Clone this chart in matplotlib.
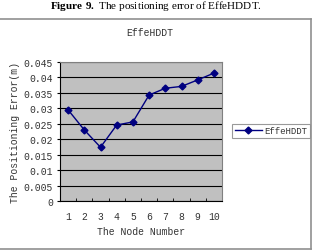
import matplotlib
matplotlib.use("Agg")
import matplotlib.pyplot as plt
from matplotlib.lines import Line2D

# data
nodes = [1, 2, 3, 4, 5, 6, 7, 8, 9, 10]
error = [0.0295, 0.023, 0.0174, 0.0246, 0.0256, 0.0343, 0.0365, 0.0371, 0.0392, 0.0414]
yticks = [0, 0.005, 0.01, 0.015, 0.02, 0.025, 0.03, 0.035, 0.04, 0.045]
ylabels = ["0", "0.005", "0.01", "0.015", "0.02", "0.025", "0.03", "0.035", "0.04", "0.045"]

plt.rcParams["mathtext.fontset"] = "custom"
plt.rcParams["mathtext.rm"] = "Liberation Serif"
plt.rcParams["mathtext.bf"] = "Liberation Serif:bold"

W, H = 312, 253
fig = plt.figure(figsize=(W / 100, H / 100), dpi=100)
fig.patch.set_facecolor("white")

mono = "Liberation Mono"
navy = "#000080"
txt = "#333333"

# caption
fig.text(0.5, 1 - 6 / H, r"$\mathbf{Figure\ 9.}$ The positioning error of EffeHDDT.",
         ha="center", va="center", fontsize=8, family="Liberation Serif")
# frame around the chart
fr = dict(color="#909090", lw=1.2, transform=fig.transFigure)
fig.add_artist(Line2D([0, 311 / W], [1 - 20 / H, 1 - 20 / H], **fr))
fig.add_artist(Line2D([0, 311 / W], [1 - 250 / H, 1 - 250 / H], **fr))
fig.add_artist(Line2D([311 / W, 311 / W], [1 - 20 / H, 1 - 250 / H], **fr))

ax = fig.add_axes([60 / W, 1 - 202 / H, 162 / W, 139 / H])
ax.set_facecolor("#C0C0C0")
ax.plot(nodes, error, color=navy, lw=1, marker="D", ms=3.5, label="EffeHDDT")
ax.set_xlim(0.5, 10.5)
ax.set_ylim(0, 0.045)
ax.set_yticks(yticks)
ax.set_yticklabels(ylabels, family=mono, fontsize=7, color=txt)
ax.set_xticks(nodes)
ax.set_xticklabels([str(n) for n in nodes], family=mono, fontsize=7, color=txt)
ax.set_xticks([n + 0.5 for n in nodes[:-1]], minor=True)
ax.tick_params(axis="x", which="major", length=0, pad=7)
ax.tick_params(axis="x", which="minor", length=2, direction="in")
ax.tick_params(axis="y", length=2, pad=3)
ax.grid(axis="y", color="black", lw=0.8)
ax.set_axisbelow(True)
for s in ["top", "right"]:
    ax.spines[s].set_color("#808080")
for s in ["left", "bottom"]:
    ax.spines[s].set_color("black")
ax.set_xlabel("The Node Number", family=mono, fontsize=7, color=txt, labelpad=4)
ax.set_ylabel("The Positioning Error(m)", family=mono, fontsize=7, color=txt, labelpad=3)
fig.text(150 / W, 1 - 33 / H, "EffeHDDT", ha="center", va="center", family=mono,
         fontsize=7, color=txt)

leg = ax.legend(loc="center left", bbox_to_anchor=(232 / W, 1 - 132 / H),
                bbox_transform=fig.transFigure, prop={"family": mono, "size": 6.5},
                fancybox=False, edgecolor="#808080", handlelength=3,
                borderpad=0.3, handletextpad=0.3, borderaxespad=0)
leg.get_frame().set_linewidth(0.8)
for t in leg.get_texts():
    t.set_color(txt)

fig.savefig("out.png", dpi=100)
